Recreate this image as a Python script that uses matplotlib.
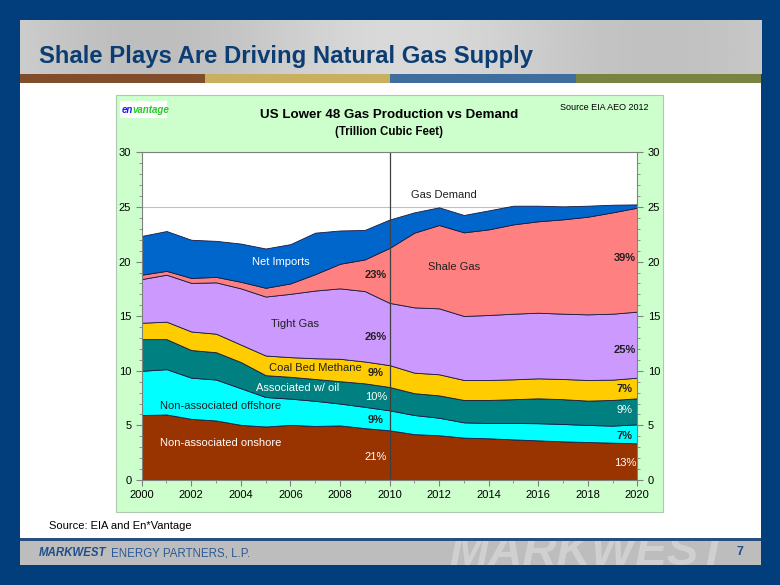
import numpy as np
import matplotlib
matplotlib.use("Agg")
import matplotlib.pyplot as plt
from matplotlib.patches import Rectangle

plt.rcParams['font.family'] = ['Liberation Sans', 'DejaVu Sans']

# data (trillion cubic feet)
years = list(range(2000, 2021))
onshore = [5.95, 6.0, 5.6, 5.45, 5.05, 4.9, 5.05, 4.95, 5.0, 4.75, 4.55,
           4.2, 4.1, 3.88, 3.82, 3.72, 3.63, 3.54, 3.48, 3.42, 3.36]
offshore = [4.05, 4.15, 3.77, 3.75, 3.35, 2.7, 2.4, 2.3, 2.0, 1.95, 1.83,
            1.75, 1.6, 1.4, 1.4, 1.5, 1.57, 1.59, 1.56, 1.56, 1.74]
associated = [2.9, 2.75, 2.53, 2.5, 2.4, 2.0, 2.0, 2.0, 2.05, 2.15, 2.14,
              2.0, 2.05, 2.05, 2.11, 2.18, 2.28, 2.27, 2.23, 2.35, 2.38]
coal_bed = [1.5, 1.6, 1.7, 1.7, 1.6, 1.8, 1.8, 1.9, 2.05, 2.0, 2.0,
            1.88, 1.93, 1.83, 1.83, 1.82, 1.83, 1.85, 1.89, 1.86, 1.89]
tight = [4.0, 4.3, 4.45, 4.7, 5.15, 5.4, 5.8, 6.2, 6.45, 6.45, 5.7,
         5.98, 6.04, 5.86, 5.95, 6.01, 6.01, 5.98, 6.01, 6.04, 6.05]
shale = [0.4, 0.35, 0.45, 0.5, 0.6, 0.8, 0.95, 1.5, 2.25, 2.9, 5.03,
         6.84, 7.63, 7.66, 7.84, 8.18, 8.37, 8.64, 8.94, 9.28, 9.52]
imports = [3.55, 3.65, 3.5, 3.3, 3.5, 3.6, 3.6, 3.8, 3.05, 2.7, 2.6,
           1.86, 1.62, 1.59, 1.74, 1.71, 1.43, 1.19, 1.01, 0.7, 0.3]

colors = ['#993300', '#00FFFF', '#008080', '#FFCC00', '#CC99FF', '#FF8080', '#0066CC']

labels_2010 = ['21%', '9%', '10%', '9%', '26%', '23%']
labels_2020 = ['13%', '7%', '9%', '7%', '25%', '39%']

W, H = 780, 585
fig = plt.figure(figsize=(7.8, 5.85), dpi=100)
fig.patch.set_facecolor('#023E7C')


def fx(x):
    return x / W


def fy(y):
    return 1 - y / H


def box(x0, y0, x1, y1, color, z=-1, **kw):
    r = Rectangle((fx(x0), fy(y1)), (x1 - x0) / W, (y1 - y0) / H,
                  transform=fig.transFigure, facecolor=color, zorder=z, **kw)
    fig.add_artist(r)
    return r


# slide body
box(19.5, 19.5, 761, 538, 'white')
# header band (grey photo strip)
hx = fig.add_axes([fx(19.5), fy(74), (761 - 19.5) / W, (74 - 19.5) / H], zorder=-0.5)
grad = np.linspace(0, 1, 200)
shade = 0.80 - 0.06 * np.sin(grad * 9) * (1 - grad * 0.3)
hx.imshow(np.tile(shade, (20, 1)), cmap='gray', vmin=0, vmax=1, aspect='auto')
hx.axis('off')
bar_cols = ['#814D2A', '#C8B060', '#3F6E9E', '#78843F']
bw = (761 - 19.5) / 4
for i, c in enumerate(bar_cols):
    box(19.5 + i * bw, 74, 19.5 + (i + 1) * bw, 83, c)

fig.text(fx(39), fy(56), 'Shale Plays Are Driving Natural Gas Supply', fontsize=17.2,
         fontweight='bold', color='#0B3D73', va='center', ha='left')

# footer
box(19.5, 538, 761, 540.5, '#2A4E7E')
fx_ax = fig.add_axes([fx(19.5), fy(565), (761 - 19.5) / W, (565 - 540.5) / H], zorder=-0.5)
fx_ax.set_facecolor('#BDBDBD')
fx_ax.set_xlim(19.5, 761)
fx_ax.set_ylim(565, 540.5)
fx_ax.set_xticks([])
fx_ax.set_yticks([])
for s in fx_ax.spines.values():
    s.set_visible(False)
fx_ax.text(588, 553, 'MARKWEST', fontsize=34, fontweight='bold', style='italic',
           color='#D0D0D0', ha='center', va='center', clip_on=True)
fig.text(fx(39), fy(553), 'MARKWEST', fontsize=8.3, fontweight='bold', style='italic',
         color='#1F4E8C', va='center', ha='left')
fig.text(fx(111), fy(553), 'ENERGY PARTNERS, L.P.', fontsize=8.3,
         color='#2C5A96', va='center', ha='left')
fig.text(fx(740), fy(552), '7', fontsize=9, fontweight='bold', color='#1F4E8C',
         va='center', ha='center')

fig.text(fx(49), fy(526), 'Source: EIA and En*Vantage', fontsize=8, color='black',
         va='center', ha='left')

# chart panel
box(116, 94.5, 662.5, 511.5, '#CCFFCC', z=-0.4, edgecolor='#B0C8B0', linewidth=0.8)
box(120, 101, 167, 118, 'white', z=-0.3)
fig.text(fx(122), fy(110), 'en', fontsize=7, fontweight='bold', style='italic',
         color='#1A1AFF', va='center', ha='left')
fig.text(fx(132), fy(110), 'vantage', fontsize=7, fontweight='bold', style='italic',
         color='#22CC22', va='center', ha='left')
fig.text(fx(389), fy(115), 'US Lower 48 Gas Production vs Demand', fontsize=9.6,
         fontweight='bold', ha='center', va='center')
fig.text(fx(389), fy(132), '(Trillion Cubic Feet)', fontsize=8.3,
         fontweight='bold', ha='center', va='center')
fig.text(fx(649), fy(108), 'Source EIA AEO 2012', fontsize=6.5,
         ha='right', va='center')

ax = fig.add_axes([fx(141.7), fy(480), (637.3 - 141.7) / W, (480 - 152.4) / H])
ax.set_facecolor('white')
layers = [onshore, offshore, associated, coal_bed, tight, shale, imports]
ax.stackplot(years, layers, colors=colors, edgecolor='#1A1A40', linewidth=0.6)
ax.set_xlim(2000, 2020)
ax.set_ylim(0, 30)
ax.set_axisbelow(True)
ax.yaxis.grid(True, color='#C0C0C0', linewidth=0.8)
ax.axvline(2010, color='#404040', linewidth=0.9)
ax.set_xticks(range(2000, 2021, 2))
ax.set_xticks(range(2000, 2021), minor=True)
ax.set_yticks(range(0, 31, 5))
ax.set_yticks(range(0, 31), minor=True)
ax.tick_params(which='both', direction='out', colors='#808080', labelcolor='black',
               labelsize=8, right=True, labelright=True)
ax.tick_params(which='major', length=4)
ax.tick_params(which='minor', length=2)
for s in ax.spines.values():
    s.set_color('#808080')

# in-chart labels
ax.text(2005.6, 20.0, 'Net Imports', color='white', fontsize=8, ha='center', va='center')
ax.text(2012.6, 19.5, 'Shale Gas', color='#202020', fontsize=8, ha='center', va='center')
ax.text(2012.2, 26.1, 'Gas Demand', color='#202020', fontsize=8, ha='center', va='center')
ax.text(2006.2, 14.3, 'Tight Gas', color='#202020', fontsize=8, ha='center', va='center')
ax.text(2007.0, 10.3, 'Coal Bed Methane', color='#202020', fontsize=8, ha='center', va='center')
ax.text(2006.3, 8.4, 'Associated w/ oil', color='white', fontsize=8, ha='center', va='center')
ax.text(2003.2, 6.75, 'Non-associated offshore', color='#202020', fontsize=8, ha='center', va='center')
ax.text(2003.2, 3.35, 'Non-associated onshore', color='white', fontsize=8, ha='center', va='center')

pos_2010 = [2.1, 5.5, 7.6, 9.8, 13.1, 18.8]
col_2010 = ['white', '#202020', 'white', '#202020', '#202020', '#202020']
for lab, yv, c in zip(labels_2010, pos_2010, col_2010):
    ax.text(2009.45, yv, lab, color=c, fontsize=8, fontweight='bold' if c != 'white' else 'normal',
            ha='center', va='center')
pos_2020 = [1.6, 4.0, 6.4, 8.3, 11.95, 20.3]
col_2020 = ['white', '#202020', 'white', '#202020', '#202020', '#202020']
for lab, yv, c in zip(labels_2020, pos_2020, col_2020):
    ax.text(2019.5, yv, lab, color=c, fontsize=8, fontweight='bold' if c != 'white' else 'normal',
            ha='center', va='center')

fig.savefig('out.png', dpi=100, facecolor=fig.get_facecolor())
